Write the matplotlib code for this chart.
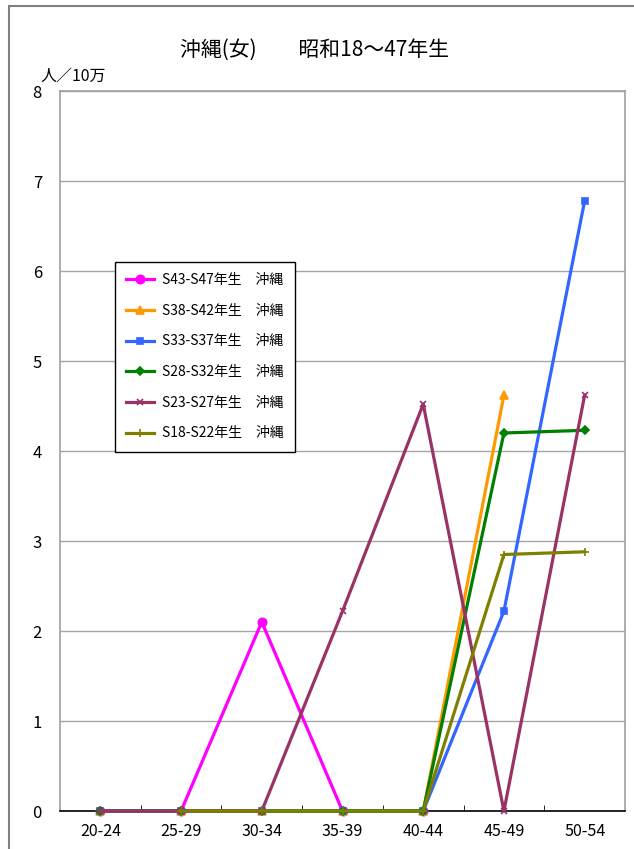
import numpy as np
import matplotlib
matplotlib.use("Agg")
import matplotlib.pyplot as plt
from matplotlib.patches import Rectangle

plt.rcParams['font.family'] = ['Noto Sans CJK JP', 'DejaVu Sans']

nan = np.nan
ages = ["20-24", "25-29", "30-34", "35-39", "40-44", "45-49", "50-54"]

s43_47 = [0, 0, 2.1, 0, 0, nan, nan]
s38_42 = [0, 0, 0, 0, 0, 4.62, nan]
s33_37 = [0, 0, 0, 0, 0, 2.22, 6.78]
s28_32 = [0, 0, 0, 0, 0, 4.2, 4.23]
s23_27 = [0, 0, 0, 2.22, 4.52, 0, 4.62]
s18_22 = [nan, 0, 0, 0, 0, 2.85, 2.88]

series = [
    ("S43-S47年生　沖縄", s43_47, "#FF00FF", "o", 6),
    ("S38-S42年生　沖縄", s38_42, "#FF9900", "^", 6),
    ("S33-S37年生　沖縄", s33_37, "#3366FF", "s", 5),
    ("S28-S32年生　沖縄", s28_32, "#008000", "D", 4.5),
    ("S23-S27年生　沖縄", s23_27, "#993366", "x", 5),
    ("S18-S22年生　沖縄", s18_22, "#808000", "+", 6),
]

fig = plt.figure(figsize=(6.34, 8.49), dpi=100)
ax = fig.add_axes([60/634, 1-811/849, 565/634, 720/849])

x = np.arange(len(ages))
for label, vals, col, mk, ms in series:
    ax.plot(x, vals, color=col, lw=2.3, marker=mk, markersize=ms,
            markeredgewidth=1.2, label=label, clip_on=False, zorder=3)

ax.set_xlim(-0.5, len(ages) - 0.5)
ax.set_ylim(0, 8)
ax.set_yticks(range(9))
ax.set_xticks(x)
ax.set_xticklabels(ages, fontsize=11.5)
ax.tick_params(axis='y', length=0, pad=13, labelsize=12)
ax.tick_params(axis='x', length=0, pad=9)
ax.set_xticks(np.arange(0.5, len(ages) - 0.5, 1), minor=True)
ax.tick_params(axis='x', which='minor', direction='in', length=4, color='black')
ax.grid(axis='y', color='#A6A6A6', lw=1)
ax.set_axisbelow(True)
for s in ['left', 'top', 'right']:
    ax.spines[s].set_color('#A0A0A0')
    ax.spines[s].set_linewidth(1.2)
ax.spines['bottom'].set_color('black')
ax.spines['bottom'].set_linewidth(1.2)

leg = ax.legend(loc='upper left', bbox_to_anchor=(55/565, (811-262)/720),
                borderaxespad=0, fancybox=False, framealpha=1, edgecolor='black',
                fontsize=10, handlelength=2.0, labelspacing=1.2,
                borderpad=0.8, handletextpad=0.6)
leg.get_frame().set_linewidth(1)

fig.text(315/634, 1-50/849, "沖縄(女)　　昭和18～47年生", ha='center', va='center', fontsize=15)
fig.text(40/634, 1-76/849, "人／10万", ha='left', va='center', fontsize=11.5)

fig.patches.append(Rectangle((9/634, -0.1), 2, 1-6/849+0.1, transform=fig.transFigure,
                             fill=False, edgecolor='#808080', lw=1.5))

fig.savefig("out.png", dpi=100)
